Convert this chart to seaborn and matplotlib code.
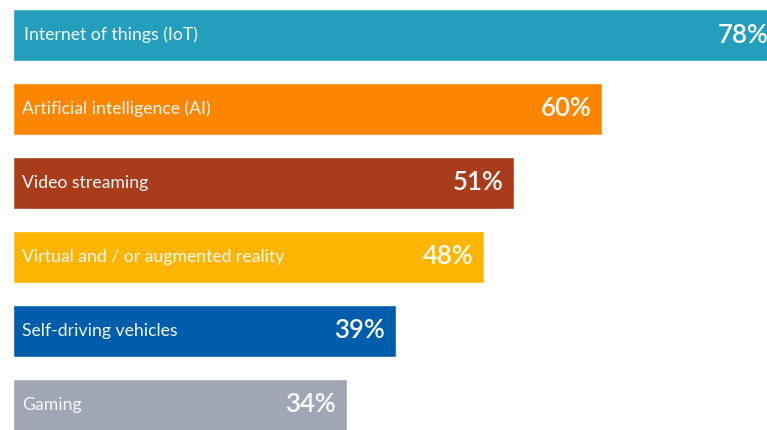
import matplotlib
matplotlib.use("Agg")
import matplotlib.pyplot as plt
import seaborn as sns
import pandas as pd

categories = ["Internet of things (IoT)", "Artificial intelligence (AI)", "Video streaming",
              "Virtual and / or augmented reality", "Self-driving vehicles", "Gaming"]
values = [78, 60, 51, 48, 39, 34]
colors = ["#239FBD", "#FD8600", "#A93C1B", "#FDB501", "#005DAB", "#A0A6B4"]

df = pd.DataFrame({"category": categories, "value": values})

sns.set_theme(style="white")
plt.rcParams["font.family"] = ["Lato", "DejaVu Sans"]

fig = plt.figure(figsize=(7.67, 4.30), dpi=100)
ax = fig.add_axes([12.5 / 767, 0, 1 - 12.5 / 767, 1])
sns.barplot(data=df, x="value", y="category", hue="category", palette=colors,
            legend=False, width=0.71, ax=ax, saturation=1)

ax.set_xlim(0, 754.5 / 9.83)
ax.set_ylim(5.338, -0.473)
ax.axis("off")

for i, (cat, v) in enumerate(zip(categories, values)):
    ax.text(1.15 if i == 0 else 0.95, i, cat, color="#F4F8FA", fontsize=12.7,
            va="center", ha="left")
    ax.text(v - 1.1, i, f"{v}%", color="white", fontsize=18.5, fontweight="semibold",
            va="center", ha="right")

fig.savefig("out.png", dpi=100)
